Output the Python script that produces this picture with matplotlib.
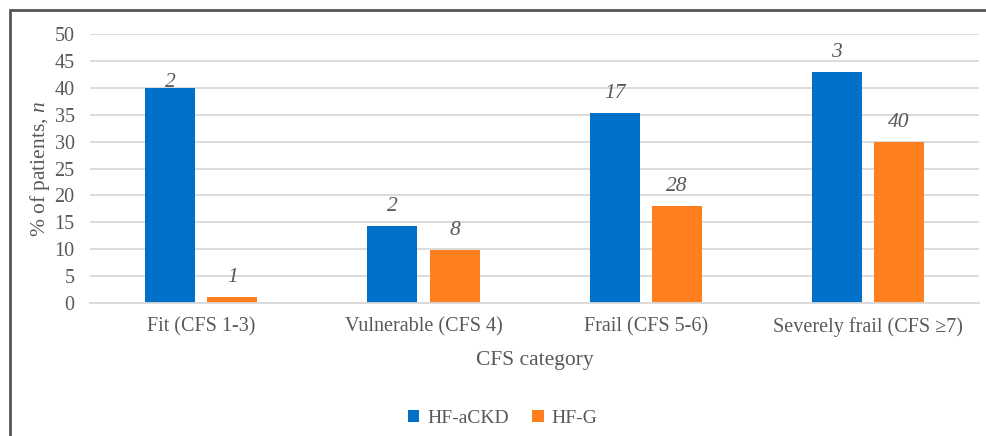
import numpy as np
import matplotlib
matplotlib.use("Agg")
from matplotlib import pyplot as plt
from matplotlib.patches import Rectangle

categories = ["Fit (CFS 1-3)", "Vulnerable (CFS 4)", "Frail (CFS 5-6)", "Severely frail (CFS \u22657)"]
pct_hf_ackd = [40.0, 14.3, 35.3, 42.9]
pct_hf_g = [1.2, 9.8, 18.0, 29.9]
n_hf_ackd = [2, 2, 17, 3]
n_hf_g = [1, 8, 28, 40]

plt.rcParams["font.family"] = ["Liberation Serif", "DejaVu Serif"]
plt.rcParams["mathtext.fontset"] = "custom"
plt.rcParams["mathtext.it"] = "Liberation Serif:italic"
plt.rcParams["mathtext.rm"] = "Liberation Serif"
text_col = "#595959"

fig = plt.figure(figsize=(9.87, 4.36), dpi=100)
ax = fig.add_axes([0.0912, 0.305, 0.9008, 0.617])

x = np.arange(len(categories))
w = 0.225
b1 = ax.bar(x - 0.14, pct_hf_ackd, w, color="#0070c8", label="HF-aCKD")
b2 = ax.bar(x + 0.14, pct_hf_g, w, color="#ff7f1e", label="HF-G")

# counts written above each bar
for bars, counts in ((b1, n_hf_ackd), (b2, n_hf_g)):
    for i, (r, n) in enumerate(zip(bars, counts)):
        off = 4 if (bars is b1 and i == 0) else 14
        ax.annotate(str(n), (r.get_x() + r.get_width() / 2, r.get_height()),
                    xytext=(0, off), textcoords="offset points",
                    ha="center", va="center", style="italic",
                    fontsize=15.5, color=text_col)

ax.set_xlim(-0.5, 3.5)
ax.set_ylim(0, 50)
ax.set_yticks(np.arange(0, 51, 5))
ax.set_xticks(x)
ax.set_xticklabels(categories)
ax.tick_params(length=0, labelsize=14.5, colors=text_col, pad=10)
ax.tick_params(axis="y", pad=11)
ax.yaxis.grid(True, color="#d9d9d9", linewidth=1.3)
ax.set_axisbelow(True)
for s in ["top", "right", "left"]:
    ax.spines[s].set_visible(False)
ax.spines["bottom"].set_color("#d9d9d9")
ax.spines["bottom"].set_linewidth(1.3)

ax.set_xlabel("CFS category", fontsize=15.5, color=text_col, labelpad=10)
ax.set_ylabel("% of patients, $\\mathit{n}$", fontsize=15.5, color=text_col, labelpad=2)

fig.legend(loc="center", bbox_to_anchor=(0.509, 0.04), ncol=2, frameon=False,
           fontsize=14, labelcolor=text_col, handlelength=0.6, handleheight=0.6,
           handletextpad=0.4, columnspacing=1.2)

# outer frame around the chart
fig.patches.append(Rectangle((10 / 987, -0.05), 1.0, 1.05 - 10 / 436,
                             transform=fig.transFigure, fill=False,
                             edgecolor="#555555", linewidth=2))

fig.savefig("out.png", dpi=100)
